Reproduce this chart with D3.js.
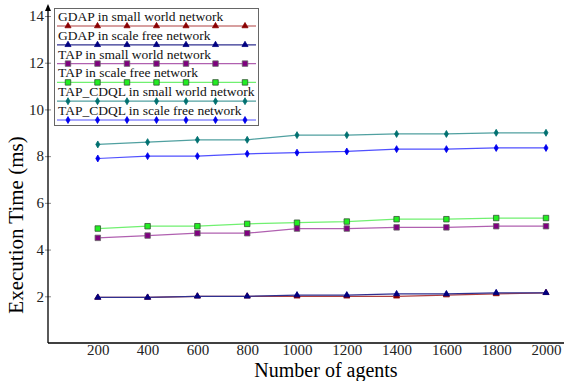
<!DOCTYPE html>
<html>
<head>
<meta charset="utf-8">
<script src="https://cdn.jsdelivr.net/npm/d3@7"></script>
<style>
  body { margin: 0; background: #fff; }
  svg { display: block; font-family: "Liberation Serif", "Times New Roman", serif; }
</style>
</head>
<body>
<svg width="564" height="381"></svg>
<script>
const agents = [200, 400, 600, 800, 1000, 1200, 1400, 1600, 1800, 2000];
const gdapSmall = [1.95, 1.95, 2.0, 2.0, 2.0, 2.0, 2.0, 2.05, 2.1, 2.15];
const gdapScale = [1.95, 1.95, 2.0, 2.0, 2.05, 2.05, 2.1, 2.1, 2.15, 2.15];
const tapSmall = [4.5, 4.6, 4.7, 4.7, 4.9, 4.9, 4.95, 4.95, 5.0, 5.0];
const tapScale = [4.9, 5.0, 5.0, 5.1, 5.15, 5.2, 5.3, 5.3, 5.35, 5.35];
const cdqlSmall = [8.5, 8.6, 8.7, 8.7, 8.9, 8.9, 8.95, 8.95, 9.0, 9.0];
const cdqlScale = [7.9, 8.0, 8.0, 8.1, 8.15, 8.2, 8.3, 8.3, 8.35, 8.35];
const yTicks = [2, 4, 6, 8, 10, 12, 14];

const series = [
  { name: "GDAP in small world network", values: gdapSmall, line: "#b04040", fill: "#8b0000", stroke: "#8b0000", shape: d3.symbolTriangle, size: 16 },
  { name: "GDAP in scale free network", values: gdapScale, line: "#303090", fill: "#000080", stroke: "#000080", shape: d3.symbolTriangle, size: 16 },
  { name: "TAP in small world network", values: tapSmall, line: "#b060b0", fill: "#800080", stroke: "#666", shape: d3.symbolSquare, size: 30 },
  { name: "TAP in scale free network", values: tapScale, line: "#70f070", fill: "#22ee22", stroke: "#335533", shape: d3.symbolSquare, size: 30 },
  { name: "TAP_CDQL in small world network", values: cdqlSmall, line: "#50a0a0", fill: "#007070", stroke: "#007070", shape: d3.symbolDiamond, size: 14 },
  { name: "TAP_CDQL in scale free network", values: cdqlScale, line: "#5050ff", fill: "#0000ee", stroke: "#0000ee", shape: d3.symbolDiamond, size: 14 }
];

const svg = d3.select("svg");
const left = 48, bottom = 343;
const x = d3.scaleLinear().domain([0, 2000]).range([left, 546]);
const y = d3.scaleLinear().domain([0, 14]).range([bottom, 16]);

const line = d3.line()
  .x((d, i) => x(agents[i]))
  .y(d => y(d));

// series
series.forEach(s => {
  svg.append("path")
    .datum(s.values)
    .attr("fill", "none")
    .attr("stroke", s.line)
    .attr("stroke-width", 1.2)
    .attr("d", line);
  svg.selectAll(null)
    .data(s.values)
    .enter().append("path")
    .attr("transform", (d, i) => `translate(${x(agents[i])},${y(d)})`)
    .attr("d", d3.symbol().type(s.shape).size(s.size))
    .attr("fill", s.fill)
    .attr("stroke", s.stroke)
    .attr("stroke-width", 0.8);
});

// axes
const yAxis = svg.append("g")
  .attr("transform", `translate(${left},0)`)
  .call(d3.axisLeft(y).tickValues(yTicks).tickSize(3).tickSizeOuter(0))
  .attr("font-family", "'Liberation Serif', serif")
  .attr("font-size", 15);
yAxis.select(".domain").remove();
yAxis.selectAll(".tick line").attr("x1", -3).attr("x2", 3).attr("stroke", "#888");
yAxis.selectAll(".tick text").attr("fill", "#222").attr("x", -4);

svg.append("line").attr("x1", left).attr("x2", left).attr("y1", 8).attr("y2", bottom)
  .attr("stroke", "#000").attr("stroke-width", 1.3);
svg.append("path").attr("d", `M${left},4 L${left - 3},11 L${left + 3},11 Z`).attr("fill", "#000");

const xAxis = svg.append("g")
  .attr("transform", `translate(0,${bottom})`)
  .call(d3.axisBottom(x).tickValues(agents).tickFormat(d3.format("d")).tickSize(0).tickSizeOuter(0))
  .attr("font-family", "'Liberation Serif', serif")
  .attr("font-size", 15);
xAxis.select(".domain").remove();
xAxis.selectAll(".tick text").attr("fill", "#222").attr("dy", "0.6em");
svg.append("line").attr("x1", left).attr("x2", 564).attr("y1", bottom).attr("y2", bottom)
  .attr("stroke", "#000").attr("stroke-width", 1.3);

// axis titles
svg.append("text")
  .attr("x", 326).attr("y", 376.5)
  .attr("text-anchor", "middle")
  .attr("font-size", 20)
  .text("Number of agents");
svg.append("text")
  .attr("transform", "translate(23,225) rotate(-90)")
  .attr("text-anchor", "middle")
  .attr("font-size", 21)
  .text("Execution Time (ms)");

// legend
const legend = svg.append("g");
legend.append("rect")
  .attr("x", 54.5).attr("y", 8.5).attr("width", 204).attr("height", 117)
  .attr("fill", "#fff").attr("stroke", "#666");
const markerX = [68, 97.5, 127, 156.5, 186, 215.5, 245];
series.forEach((s, i) => {
  const ly = 26 + i * 18.8;
  legend.append("text")
    .attr("x", 58).attr("y", ly - 5)
    .attr("font-size", 13.5)
    .attr("fill", "#111")
    .text(s.name);
  legend.append("line")
    .attr("x1", 57).attr("x2", 256).attr("y1", ly).attr("y2", ly)
    .attr("stroke", s.line).attr("stroke-width", 1.2);
  legend.selectAll(null)
    .data(markerX)
    .enter().append("path")
    .attr("transform", d => `translate(${d},${ly})`)
    .attr("d", d3.symbol().type(s.shape).size(s.size))
    .attr("fill", s.fill)
    .attr("stroke", s.stroke)
    .attr("stroke-width", 0.8);
});
</script>
</body>
</html>
